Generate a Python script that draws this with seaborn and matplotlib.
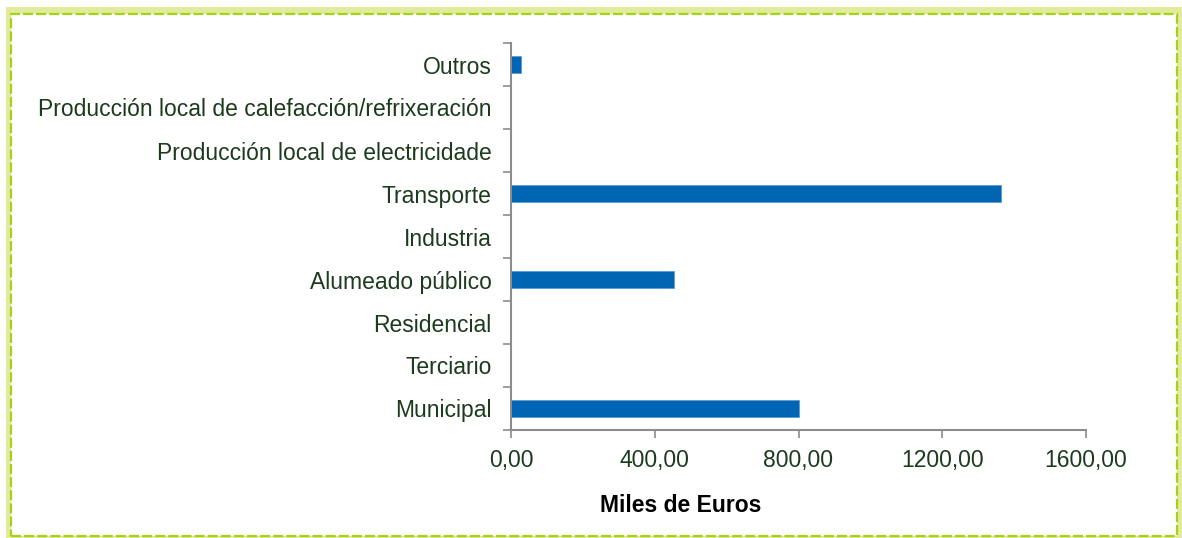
import numpy as np
import pandas as pd
import seaborn as sns
import matplotlib.pyplot as plt
from matplotlib.patches import Rectangle

# Data
categorias = [
    "Outros",
    "Producción local de calefacción/refrixeración",
    "Producción local de electricidade",
    "Transporte",
    "Industria",
    "Alumeado público",
    "Residencial",
    "Terciario",
    "Municipal",
]
valores = [28, 0, 0, 1364, 0, 454, 0, 0, 801]
xticks = [0, 400, 800, 1200, 1600]
xtick_labels = ["0,00", "400,00", "800,00", "1200,00", "1600,00"]

df = pd.DataFrame({"cat": categorias, "val": valores})

sns.set_style("white")
plt.rcParams["font.family"] = ["Liberation Sans", "DejaVu Sans"]

text_col = "#1c3a1c"
spine_col = "#8c8c8c"

fig = plt.figure(figsize=(11.82, 5.38), dpi=100)
W, H = 1182, 538

# outer frame: pale band plus dashed green line
fig.patches.append(Rectangle((6 / W, 0), 1 - 6 / W, 1 - 7 / H, transform=fig.transFigure,
                             facecolor="#e4ea9c", edgecolor="none", zorder=-3))
fig.patches.append(Rectangle((11 / W, 2 / H), 1166 / W, 1 - 16 / H, transform=fig.transFigure,
                             facecolor="white", edgecolor="#a4d21a", linewidth=1.6,
                             linestyle=(0, (4.5, 1.4)), zorder=-2))

ax = fig.add_axes([511 / W, 1 - 430 / H, 575 / W, 387 / H])
ax.patch.set_alpha(0)
sns.barplot(data=df, x="val", y="cat", order=categorias, color="#0066b3",
            saturation=1, width=0.4, ax=ax, edgecolor="#5a9bd0", linewidth=0.6)

ax.set_xlim(0, 1600)
ax.set_ylim(len(categorias) - 0.5, -0.5)
ax.set_xticks(xticks)
ax.set_xticklabels(xtick_labels, fontsize=16.5, color=text_col)
ax.set_yticks(np.arange(len(categorias)))
ax.set_yticklabels(categorias, fontsize=16.5, color=text_col)
ax.set_yticks(np.arange(-0.5, len(categorias)), minor=True)
ax.tick_params(axis="y", which="major", left=True, length=0, pad=14)
ax.tick_params(axis="y", which="minor", left=True, length=6, width=1.2,
               color=spine_col, direction="out")
ax.tick_params(axis="x", which="major", bottom=True, length=6, width=1.2,
               color=spine_col, direction="out", pad=8)
ax.set_xlabel("")
ax.set_ylabel("")

for s in ["top", "right"]:
    ax.spines[s].set_visible(False)
for s in ["left", "bottom"]:
    ax.spines[s].set_color(spine_col)
    ax.spines[s].set_linewidth(1.5)

fig.text(681 / W, 1 - 505 / H, "Miles de Euros", fontsize=16.5, fontweight="bold",
         color="black", ha="center", va="center")

fig.savefig("out.png", dpi=100)
